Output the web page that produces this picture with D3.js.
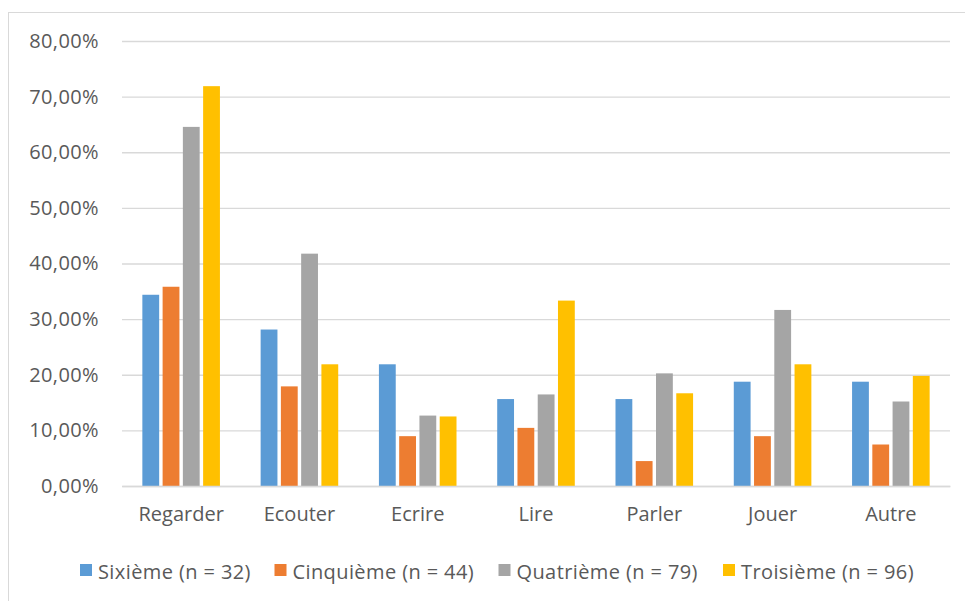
<!DOCTYPE html>
<html>
<head>
<meta charset="utf-8">
<script src="https://cdn.jsdelivr.net/npm/d3@7"></script>
<style>
  html, body { margin: 0; padding: 0; background: #fff; }
  svg { display: block; }
  text { font-family: "Open Sans", sans-serif; fill: #595959; }
</style>
</head>
<body>
<svg id="chart" width="965" height="601"></svg>
<script>
// Activities by school year (share of pupils)
const categories = ["Regarder", "Ecouter", "Ecrire", "Lire", "Parler", "Jouer", "Autre"];
const seriesNames = ["Sixième (n = 32)", "Cinquième (n = 44)", "Quatrième (n = 79)", "Troisième (n = 96)"];
const sixieme   = [34.38, 28.13, 21.88, 15.63, 15.63, 18.75, 18.75];
const cinquieme = [35.82, 17.91, 8.96, 10.45, 4.48, 8.96, 7.46];
const quatrieme = [64.56, 41.77, 12.66, 16.46, 20.25, 31.65, 15.19];
const troisieme = [71.88, 21.88, 12.50, 33.33, 16.67, 21.88, 19.79];
const yTicks = [0, 10, 20, 30, 40, 50, 60, 70, 80];
const colors = ["#5B9BD5", "#ED7D31", "#A5A5A5", "#FFC000"];

const values = [sixieme, cinquieme, quatrieme, troisieme];
const fontSize = 20;

const svg = d3.select("#chart");

// chart frame
svg.append("rect")
  .attr("x", 8.5).attr("y", 12.5)
  .attr("width", 980).attr("height", 600)
  .attr("fill", "none").attr("stroke", "#D9D9D9").attr("stroke-width", 1);

const plot = { left: 122, right: 950, top: 41, bottom: 486 };

const y = d3.scaleLinear().domain([0, 80]).range([plot.bottom, plot.top]);
const x0 = d3.scaleBand().domain(categories).range([plot.left, plot.right]).padding(0);
const groupW = x0.bandwidth() * 0.685;
const x1 = d3.scaleBand().domain(d3.range(4)).range([0, groupW]).paddingInner(0.17).paddingOuter(0.085);

// gridlines and value labels
const yAxis = d3.axisLeft(y).tickValues(yTicks)
  .tickSize(-(plot.right - plot.left))
  .tickFormat(d => d3.format(".2f")(d).replace(".", ",") + "%")
  .tickPadding(23);

const gy = svg.append("g").attr("transform", `translate(${plot.left},0)`).call(yAxis);
gy.select(".domain").remove();
gy.selectAll(".tick line").attr("stroke", "#D9D9D9").attr("stroke-width", 1.3);
gy.selectAll(".tick text").attr("font-size", fontSize).attr("fill", "#595959")
  .attr("letter-spacing", 0.4)
  .style("font-family", "'Open Sans', sans-serif");

// bars
const groups = svg.append("g").selectAll("g")
  .data(categories)
  .join("g")
  .attr("transform", d => `translate(${x0(d) + (x0.bandwidth() - groupW) / 2},0)`);

groups.selectAll("rect")
  .data((c, i) => values.map((s, k) => ({ k, v: s[i] })))
  .join("rect")
  .attr("x", d => x1(d.k))
  .attr("width", x1.bandwidth())
  .attr("y", d => y(d.v))
  .attr("height", d => y(0) - y(d.v))
  .attr("fill", d => colors[d.k]);

// category axis
const xAxis = d3.axisBottom(x0).tickSize(0).tickPadding(21);
const gx = svg.append("g").attr("transform", `translate(0,${plot.bottom})`).call(xAxis);
gx.select(".domain").attr("stroke", "#D9D9D9").attr("stroke-width", 1.3);
gx.selectAll(".tick text").attr("font-size", fontSize).attr("fill", "#595959")
  .style("font-family", "'Open Sans', sans-serif");

// legend
const legendX = [80, 274.5, 498.5, 723];
const legend = svg.append("g").selectAll("g")
  .data(seriesNames)
  .join("g")
  .attr("transform", (d, i) => `translate(${legendX[i]},564)`);
legend.append("rect").attr("width", 12).attr("height", 12).attr("fill", (d, i) => colors[i]);
legend.append("text").attr("x", 18).attr("y", 15)
  .attr("font-size", fontSize).attr("letter-spacing", 0.4).text(d => d);
</script>
</body>
</html>
